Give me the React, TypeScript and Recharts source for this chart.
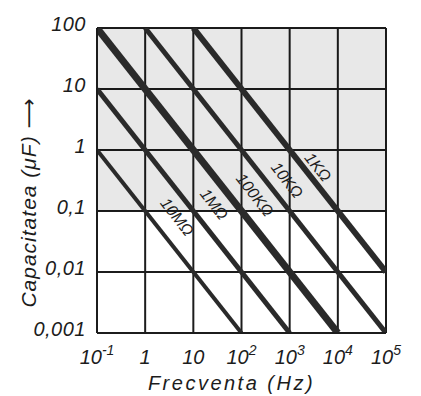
import React from 'react';
import { LineChart, Line, XAxis, YAxis, CartesianGrid, ReferenceArea, ReferenceDot } from 'recharts';

const freqTicks = [0.1, 1, 10, 100, 1000, 10000, 100000];
const freqBase = ['10', '1', '10', '10', '10', '10', '10'];
const freqExp = ['-1', '', '', '2', '3', '4', '5'];
const capTicks = [0.001, 0.01, 0.1, 1, 10, 100];
const capLabels = ['0,001', '0,01', '0,1', '1', '10', '100'];

// each resistor: two end points of its line (f in Hz, c in uF)
const r1k = [{ f: 10, c: 100 }, { f: 100000, c: 0.01 }];
const r10k = [{ f: 1, c: 100 }, { f: 100000, c: 0.001 }];
const r100k = [{ f: 0.1, c: 100 }, { f: 10000, c: 0.001 }];
const r1M = [{ f: 0.1, c: 10 }, { f: 1000, c: 0.001 }];
const r10M = [{ f: 0.1, c: 1 }, { f: 100, c: 0.001 }];

const lineNames = ['1KΩ', '10KΩ', '100KΩ', '1MΩ', '10MΩ'];
const labelF = [3870, 880, 190, 27, 4.6];
const labelC = [0.526, 0.322, 0.183, 0.13, 0.08];

const hand = '"Liberation Sans", "DejaVu Sans", sans-serif';
const ink = '#1c1c1c';

const XTick = (props: any) => {
  const { x, y, index } = props;
  return (
    <text x={x} y={y + 23} textAnchor="middle" fontFamily={hand} fontStyle="italic" fontSize={20} fill={ink}>
      {freqBase[index]}
      {freqExp[index] && (
        <tspan dy={-9} fontSize={14}>{freqExp[index]}</tspan>
      )}
    </text>
  );
};

const YTick = (props: any) => {
  const { x, y, index } = props;
  return (
    <text x={x - 3} y={y + 3} textAnchor="end" fontFamily={hand} fontStyle="italic" fontSize={20} letterSpacing={0.5} fill={ink}>
      {capLabels[index]}
    </text>
  );
};

const YTitle = (props: any) => {
  const vb = props.viewBox || { x: 0, y: 28, height: 305 };
  const cx = vb.x + 28;
  const cy = vb.y + vb.height / 2 + 22;
  return (
    <text
      x={cx}
      y={cy}
      transform={`rotate(-90 ${cx} ${cy})`}
      textAnchor="middle"
      dominantBaseline="central"
      fontFamily={hand}
      fontStyle="italic"
      fontSize={21}
      letterSpacing={1}
      fill={ink}
    >
      Capacitatea (μF) ⟶
    </text>
  );
};

const lineLabel = (name: string) => (p: any) => (
  <text
    x={p.cx}
    y={p.cy}
    transform={`rotate(52 ${p.cx} ${p.cy})`}
    textAnchor="middle"
    dominantBaseline="central"
    fontFamily={hand}
    fontStyle="italic"
    fontSize={16}
    fill={ink}
  >
    {name}
  </text>
);

const series = [
  { data: r1k, w: 6 },
  { data: r10k, w: 5 },
  { data: r100k, w: 7 },
  { data: r1M, w: 5 },
  { data: r10M, w: 4 },
];

export default function App() {
  return (
    <div style={{ position: 'absolute', left: 0, top: 0, width: 421, height: 396, background: '#fff' }}>
      <LineChart width={421} height={396} margin={{ top: 28, right: 35, left: 0, bottom: 0 }}>
        <ReferenceArea x1={0.1} x2={100000} y1={0.1} y2={100} fill="#000" fillOpacity={0.09} stroke="none" />
        <CartesianGrid stroke={ink} strokeWidth={2} horizontalValues={capTicks} verticalValues={freqTicks} />
        <XAxis
          dataKey="f"
          type="number"
          scale="log"
          domain={[0.1, 100000]}
          ticks={freqTicks}
          interval={0}
          allowDataOverflow
          height={63}
          tick={<XTick />}
          tickLine={false}
          axisLine={{ stroke: ink, strokeWidth: 2 }}
          label={{ value: 'Frecventa (Hz)', position: 'insideBottom', offset: 6, dx: -10, fill: ink, fontSize: 20, fontStyle: 'italic', fontFamily: hand, letterSpacing: 2.5 }}
        />
        <YAxis
          dataKey="c"
          type="number"
          scale="log"
          domain={[0.001, 100]}
          ticks={capTicks}
          interval={0}
          allowDataOverflow
          width={97}
          tick={<YTick />}
          tickLine={false}
          axisLine={{ stroke: ink, strokeWidth: 2 }}
          label={<YTitle />}
        />
        {series.map((s, i) => (
          <Line
            key={lineNames[i]}
            data={s.data}
            dataKey="c"
            stroke="#2a2a2a"
            strokeWidth={s.w}
            dot={false}
            isAnimationActive={false}
          />
        ))}
        {lineNames.map((n, i) => (
          <ReferenceDot key={n} x={labelF[i]} y={labelC[i]} r={0} shape={lineLabel(n)} />
        ))}
      </LineChart>
    </div>
  );
}
